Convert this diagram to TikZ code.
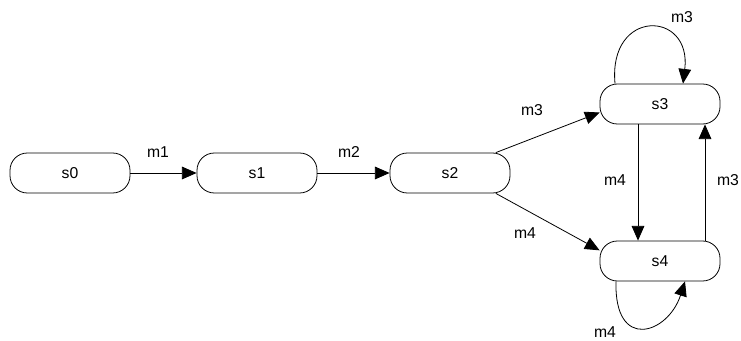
\documentclass[tikz,border=0pt]{standalone}
\usepackage{fontspec}
\setmainfont{Liberation Sans}
\usetikzlibrary{arrows.meta,positioning,calc}

\begin{document}
\begin{tikzpicture}[x=0.75pt,y=-0.75pt,line width=0.6pt,
    font=\fontsize{11.8}{14}\selectfont,
    state/.style={draw,rounded corners=13pt,minimum width=90pt,minimum height=30pt,inner sep=0pt},
    trans/.style={-{Triangle[length=11pt,width=9.5pt]}}]
    \useasboundingbox (0,0) rectangle (741,341);
    % states
    \node[state] (s0) at (70,173) {s0};
    \node[state] (s1) at (257,173) {s1};
    \node[state] (s2) at (450,173) {s2};
    \node[state] (s3) at (660,104) {s3};
    \node[state] (s4) at (660,261) {s4};
    % transitions
    \draw[trans] (s0) -- (s1);
    \draw[trans] (s1) -- (s2);
    \draw[trans] (s2.24) -- (s3.188);
    \draw[trans] (s2.-24) -- (s4.170);
    \draw[trans] ($(s3.south)+(-22,0)$) -- ($(s4.north)+(-22,0)$);
    \draw[trans] ($(s4.north)+(45,0)$) -- ($(s3.south)+(45,0)$);
    \draw[trans] ($(s3.north)+(-45,0)$) .. controls (608,8) and (692,10) .. ($(s3.north)+(23,0)$);
    \draw[trans] ($(s4.south)+(-44,0)$) .. controls (614,352) and (668,334) .. ($(s4.south)+(25,0)$);
    % labels
    \foreach \n/\x/\y/\l in {l1/158/152/m1, l2/349/152/m2, l3/532/110/m3, l4/525/233/m4,
        l5/615/180/m4, l6/728/180/m3, l7/682/17/m3, l8/605/332/m4}
      \node (\n) at (\x,\y) {\l};
\end{tikzpicture}
\end{document}
